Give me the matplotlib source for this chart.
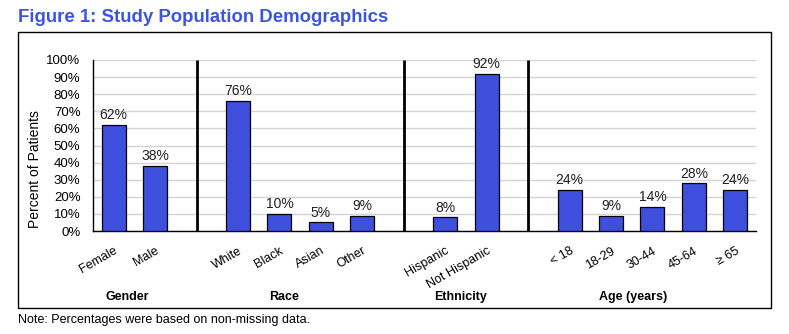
import matplotlib
matplotlib.use('Agg')
import matplotlib.pyplot as plt
import matplotlib.patches as patches

plt.rcParams['font.family'] = ['Liberation Sans', 'DejaVu Sans']

# data
categories = ['Female', 'Male', 'White', 'Black', 'Asian', 'Other',
              'Hispanic', 'Not Hispanic', '< 18', '18-29', '30-44', '45-64', '≥ 65']
values = [62, 38, 76, 10, 5, 9, 8, 92, 24, 9, 14, 28, 24]
groups = ['Gender', 'Race', 'Ethnicity', 'Age (years)']
group_sizes = [2, 4, 2, 5]
yticks = list(range(0, 101, 10))

BAR = '#3d4fdc'
TITLE = '#3b55e2'

# slot positions: one empty slot between groups holds the separator line
positions = []
separators = []
pos = 0
for gi, n in enumerate(group_sizes):
    for k in range(n):
        positions.append(pos)
        pos += 1
    if gi < len(group_sizes) - 1:
        separators.append(pos)
        pos += 1

W, H = 789, 334
fig = plt.figure(figsize=(W / 100, H / 100), dpi=100)
ax = fig.add_axes([93 / W, 1 - 231 / H, (756 - 93) / W, (231 - 60) / H])

ax.set_xlim(-0.5, pos - 0.5)
ax.set_ylim(0, 100)
ax.set_yticks(yticks)
ax.set_yticklabels([f'{t}%' for t in yticks], fontsize=9.5)
ax.yaxis.grid(True, color='#d4d4d4', lw=1)
ax.set_axisbelow(True)

bars = ax.bar(positions, values, width=0.58, color=BAR, edgecolor='black', lw=0.9, zorder=3)
for b, v in zip(bars, values):
    ax.text(b.get_x() + b.get_width() / 2, v + 1.5, f'{v}%', ha='center', va='bottom',
            fontsize=10, color='#222222')

for s in separators:
    ax.plot([s, s], [0, 100], color='black', lw=2, zorder=4, solid_capstyle='butt')

ax.set_xticks(positions)
ax.set_xticklabels(categories, rotation=30, ha='right', fontsize=9, rotation_mode='anchor')
ax.tick_params(axis='x', length=0, pad=10)
ax.tick_params(axis='y', length=0, pad=9)

for side in ['top', 'right']:
    ax.spines[side].set_visible(False)
for side in ['left', 'bottom']:
    ax.spines[side].set_color('black')
    ax.spines[side].set_linewidth(1)

fig.text(35 / W, 1 - 169 / H, 'Percent of Patients', rotation=90, ha='center', va='center',
         fontsize=10)

# group labels under the tick labels
group_x = [127, 284, 461, 633]
for g, gx in zip(groups, group_x):
    fig.text(gx / W, 1 - 297 / H, g, ha='center', va='center', fontsize=9, fontweight='bold')

# outer frame
fig.add_artist(patches.Rectangle((18 / W, 1 - 308 / H), (771 - 18) / W, (308 - 32) / H,
                                 transform=fig.transFigure, fill=False, ec='black', lw=1))

fig.text(18 / W, 1 - 18 / H, 'Figure 1: Study Population Demographics', ha='left', va='center',
         fontsize=13.4, fontweight='bold', color=TITLE)
fig.text(18 / W, 1 - 320 / H, 'Note: Percentages were based on non-missing data.', ha='left',
         va='center', fontsize=9)

fig.savefig('out.png', dpi=100)
